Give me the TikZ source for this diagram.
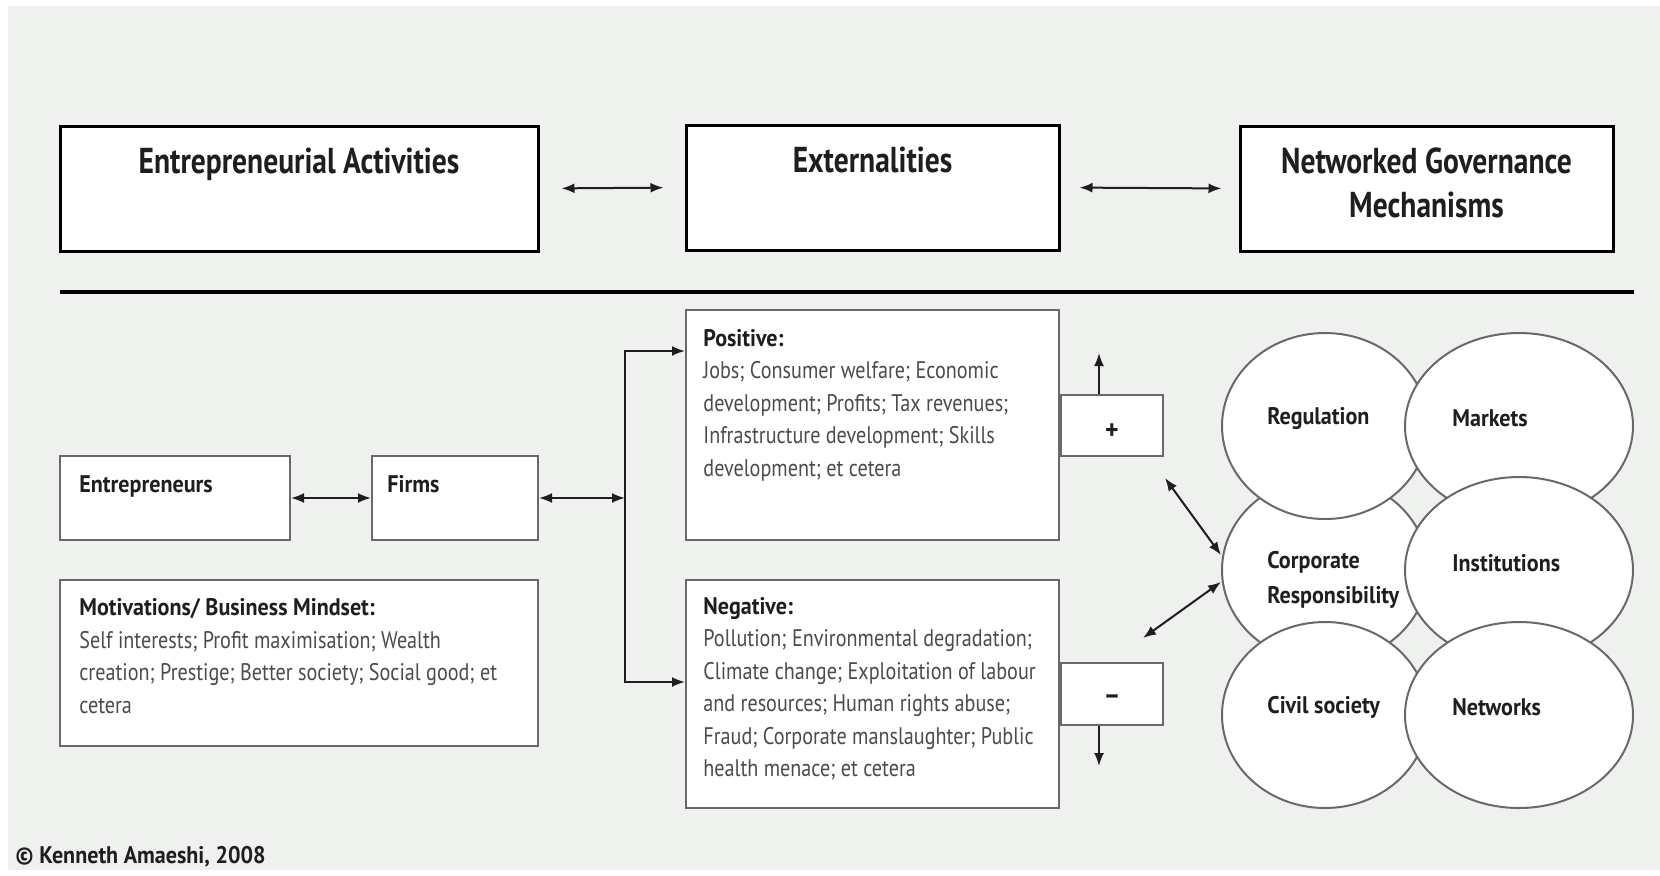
\documentclass[tikz,border=0pt]{standalone}
\usepackage{fontspec}
\setmainfont{PT Sans}
\newfontfamily\bodyf{PT Sans}[FakeStretch=0.84]
\newfontfamily\boldf{PT Sans Bold}[FakeStretch=0.92]
\newfontfamily\titlef{PT Sans Bold}[FakeStretch=0.82]
\usetikzlibrary{arrows.meta,calc,shapes.geometric}
\definecolor{bg}{RGB}{238,241,238}
\definecolor{txt}{RGB}{75,75,75}
\definecolor{hd}{RGB}{30,30,30}
\definecolor{bord}{RGB}{105,105,105}
\begin{document}
\begin{tikzpicture}[x=0.5pt,y=-0.5pt,
  >={Latex[length=6.5pt,width=5pt]},
  topbox/.style={draw=black,line width=1.5pt,fill=white,inner sep=0pt,minimum height=62.5pt},
  lowbox/.style={draw=bord,line width=1pt,fill=white,inner sep=0pt},
  ttext/.style={font=\titlef\fontsize{18}{22}\selectfont,text=hd,align=center,inner sep=0pt,anchor=north},
  btext/.style={font=\bodyf\fontsize{12}{16.25}\selectfont,text=txt,align=left,inner sep=0pt,anchor=north west},
  ell/.style={ellipse,draw=bord,line width=1pt,fill=white,inner sep=0pt,minimum height=93pt},
  elbl/.style={font=\boldf\fontsize{12}{17.5}\selectfont,text=hd,align=left,inner sep=0pt,anchor=west},
  sign/.style={font=\boldf\fontsize{14}{16}\selectfont,text=hd,inner sep=0pt},
  arr/.style={draw=hd,line width=1pt}
]
\useasboundingbox (0,0) rectangle (1660,875);
\fill[white] (0,0) rectangle (1660,875);
\fill[bg] (8,6) rectangle (1660,870);

% top row
\node[topbox,minimum width=239pt] (ea) at (299,188.5) {};
\node[topbox,minimum width=186.5pt] (ext) at (872.5,187.5) {};
\node[topbox,minimum width=186.5pt] (ngm) at (1426.5,188.5) {};
\node[ttext] (eat) at ($(ea.north)+(0,23)$) {Entrepreneurial Activities};
\node[ttext] (extt) at ($(ext.north)+(0,23)$) {Externalities};
\node[ttext] (ngmt) at ($(ngm.north)+(0,23)$) {Networked Governance\\Mechanisms};
\draw[arr,<->,shorten <=11pt,shorten >=10.5pt] (ea.east) -- (ext.west);
\draw[arr,<->,shorten <=9.5pt,shorten >=8.5pt] (ext.east) -- (ngm.west);

% rule
\coordinate (r1) at (60,292);
\coordinate (r2) at (1634,292);
\draw[black,line width=2pt] (r1) -- (r2);

% lower left
\node[lowbox,minimum width=115pt,minimum height=42pt] (ent) at (175,498) {};
\node[lowbox,minimum width=83pt,minimum height=42pt] (firms) at (455,498) {};
\node[lowbox,minimum width=239pt,minimum height=83pt] (mot) at (299,663) {};
\node[btext] (entt) at ($(ent.north west)+(20,20)$) {{\boldf\color{hd}Entrepreneurs}};
\node[btext] (firmst) at ($(firms.north west)+(16,20)$) {{\boldf\color{hd}Firms}};
\node[btext] (mott) at ($(mot.north west)+(20,19)$) {{\boldf\color{hd}Motivations/ Business Mindset:}\\
Self interests; Profit maximisation; Wealth\\
creation; Prestige; Better society; Social good; et\\
cetera};

% externalities
\node[lowbox,minimum width=186.5pt,minimum height=115pt] (pos) at (872.5,425) {};
\node[lowbox,minimum width=186.5pt,minimum height=114pt] (neg) at (872.5,694) {};
\node[btext] (post) at ($(pos.north west)+(18,20)$) {{\boldf\color{hd}Positive:}\\
Jobs; Consumer welfare; Economic\\
development; Profits; Tax revenues;\\
Infrastructure development; Skills\\
development; et cetera};
\node[btext] (negt) at ($(neg.north west)+(18,18)$) {{\boldf\color{hd}Negative:}\\
Pollution; Environmental degradation;\\
Climate change; Exploitation of labour\\
and resources; Human rights abuse;\\
Fraud; Corporate manslaughter; Public\\
health menace; et cetera};
\node[lowbox,minimum width=51pt,minimum height=30.5pt,anchor=west] (plus) at (pos.east) {};
\node[lowbox,minimum width=51pt,minimum height=31pt,anchor=west] (minus) at (neg.east) {};
\node[sign] (plust) at ($(plus.center)+(0,7)$) {+};
\node[sign] (minust) at ($(minus.center)+(0,6)$) {–};

\coordinate (j) at (625,498);
\draw[arr,<->] (firms.east) -- (j);
\draw[arr,->] (j) |- ($(pos.north west)+(0,42)$);
\draw[arr,->] (j) |- ($(neg.north west)+(0,103)$);
\draw[arr,<->] (ent.east) -- (firms.west);

\coordinate (upend) at (1099,353);
\coordinate (dnend) at (1099,766);
\draw[arr,->] (upend |- plus.north) -- (upend);
\draw[arr,->] (dnend |- minus.south) -- (dnend);

% ellipses
\node[ell,minimum width=103pt] (cr) at (1325,570) {};
\node[ell,minimum width=103pt] (reg) at (1325,426) {};
\node[ell,minimum width=114pt] (mkt) at (1519,426) {};
\node[ell,minimum width=114pt] (inst) at (1519,570) {};
\node[ell,minimum width=103pt] (civ) at (1325,715) {};
\node[ell,minimum width=114pt] (net) at (1519,715) {};
\node[elbl] (regt) at ($(reg.center)+(-58,-8)$) {Regulation};
\node[elbl] (mktt) at ($(mkt.center)+(-67,-8)$) {Markets};
\node[elbl] (crt) at ($(cr.center)+(-58,10)$) {Corporate\\Responsibility};
\node[elbl] (instt) at ($(inst.center)+(-67,-7)$) {Institutions};
\node[elbl] (civt) at ($(civ.center)+(-58,-8)$) {Civil society};
\node[elbl] (nett) at ($(net.center)+(-67,-8)$) {Networks};

\coordinate (d1) at (1165,478);
\coordinate (d2) at (1143,638);
\draw[arr,<->] (d1) -- ($(cr.west)+(0,-15)$);
\draw[arr,<->] ($(cr.west)+(0,12)$) -- (d2);

\node[font=\boldf\fontsize{12}{14}\selectfont,text=hd,anchor=west,inner sep=0pt] (copy) at (15,857) {© Kenneth Amaeshi, 2008};
\end{tikzpicture}
\end{document}
